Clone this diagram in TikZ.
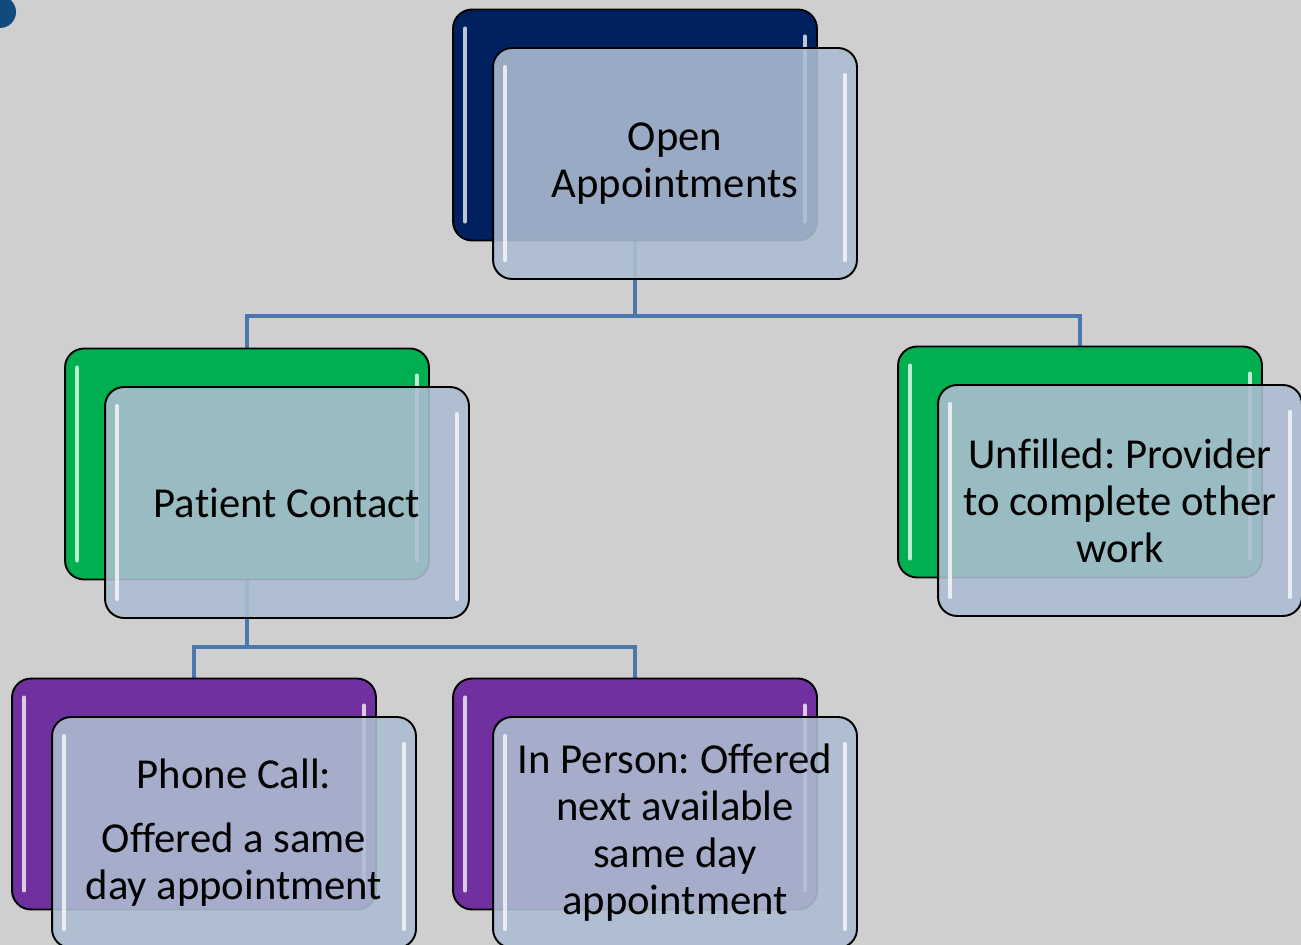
\documentclass[tikz,border=0pt]{standalone}
\usepackage{fontspec}
\setmainfont{Carlito}[Ligatures=NoCommon]
\frenchspacing
\usetikzlibrary{backgrounds}

\definecolor{bggray}{RGB}{207,207,207}
\definecolor{navy}{RGB}{0,32,96}
\definecolor{leafgreen}{RGB}{0,176,80}
\definecolor{grape}{RGB}{112,48,160}
\definecolor{frost}{RGB}{172,189,209}
\definecolor{linkblue}{RGB}{74,120,174}
\definecolor{dotblue}{RGB}{19,74,124}

\pgfdeclarelayer{links}
\pgfsetlayers{background,links,main}

\tikzset{
  card/.style={draw=black, line width=1.1pt, rounded corners=0.38cm,
    minimum width=7.28cm, minimum height=4.62cm},
  backcard/.style={card, fill=#1},
  frontcard/.style={card, fill=frost, fill opacity=0.89, text opacity=1,
    align=center, font=\fontsize{24.3}{26.7}\selectfont},
  link/.style={draw=linkblue, line width=2.3pt},
  shine/.style={white, line width=2.4pt, line cap=round, opacity=0.75}
}

% glossy edge highlights inside a card (offsets in px)
\newcommand\gloss[1]{%
  \draw[shine] ([shift={(13,20)}]#1.north west) -- ([shift={(13,-20)}]#1.south west);
  \draw[shine] ([shift={(-13,28)}]#1.north east) -- ([shift={(-13,-20)}]#1.south east);
}

\begin{document}
\begin{tikzpicture}[x=0.02cm, y=-0.02cm]
    % page
    \begin{pgfonlayer}{background}
        \fill[bggray] (0,0) rectangle (1301,945);
    \end{pgfonlayer}
    \useasboundingbox (0,0) rectangle (1301,945);
    \fill[dotblue] (0,12) circle (16);

    % back cards
    \node[backcard=navy] (openBack) at (635,125) {};
    \node[backcard=leafgreen] (contactBack) at (247,464) {};
    \node[backcard=leafgreen] (unfilledBack) at (1080,462) {};
    \node[backcard=grape] (phoneBack) at (194,794) {};
    \node[backcard=grape] (personBack) at (635,794) {};
    \foreach \c in {openBack,contactBack,unfilledBack,phoneBack,personBack}
        {\gloss{\c}}

    % front cards with the labels
    \node[frontcard] (openFront) at ([shift={(40,38.5)}]openBack.center)
        {Open\\Appointments};
    \node[frontcard] (contactFront) at ([shift={(40,38.5)}]contactBack.center)
        {Patient Contact};
    \node[frontcard] (unfilledFront) at ([shift={(40,38.5)}]unfilledBack.center)
        {Unfilled: Provider\\to complete other\\work};
    \node[frontcard] (phoneFront) at ([shift={(40,38.5)}]phoneBack.center)
        {Phone Call:\\[0.34cm]Offered a same\\day appointment};
    \node[frontcard] (personFront) at ([shift={(40,38.5)}]personBack.center)
        {In Person: Offered\\next available\\same day\\appointment};
    \foreach \c in {openFront,contactFront,unfilledFront,phoneFront,personFront}
        {\gloss{\c}}

    % tree links
    \coordinate (topSplit) at (635,316);
    \coordinate (contactSplit) at (247,647);
    \begin{pgfonlayer}{links}
        \draw[link] (openBack.south) -- (topSplit) -| (contactBack.north);
        \draw[link] (topSplit) -| (unfilledBack.north);
        \draw[link] (contactBack.south) -- (contactSplit) -| (phoneBack.north);
        \draw[link] (contactSplit) -| (personBack.north);
    \end{pgfonlayer}
\end{tikzpicture}
\end{document}
